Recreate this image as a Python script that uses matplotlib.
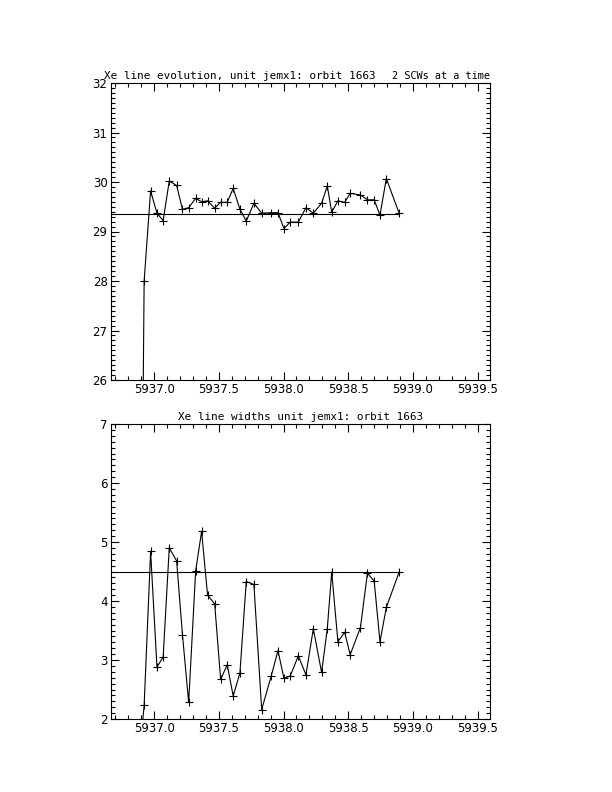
import matplotlib
matplotlib.use('Agg')
import matplotlib.pyplot as plt
from matplotlib.ticker import MultipleLocator, FormatStrFormatter

# ---- data ----
time = [5936.83, 5936.923, 5936.973, 5937.022, 5937.070, 5937.117, 5937.174, 5937.219,
        5937.267, 5937.321, 5937.367, 5937.413, 5937.468, 5937.514, 5937.565, 5937.611,
        5937.663, 5937.712, 5937.771, 5937.831, 5937.905, 5937.957, 5938.003, 5938.052,
        5938.114, 5938.173, 5938.230, 5938.294, 5938.338, 5938.372, 5938.420, 5938.472,
        5938.515, 5938.594, 5938.648, 5938.700, 5938.745, 5938.794, 5938.893]
energy = [0.0, 28.0, 29.82, 29.37, 29.22, 30.02, 29.93, 29.45, 29.48, 29.67, 29.60,
          29.62, 29.47, 29.59, 29.59, 29.87, 29.45, 29.21, 29.57, 29.37, 29.38, 29.38,
          29.06, 29.19, 29.19, 29.48, 29.37, 29.57, 29.92, 29.39, 29.62, 29.59, 29.77,
          29.74, 29.64, 29.64, 29.33, 30.07, 29.37]
width = [0.0, 2.23, 4.84, 2.88, 3.05, 4.90, 4.68, 3.43, 2.28, 4.51, 5.18, 4.10, 3.95,
         2.67, 2.92, 2.39, 2.78, 4.33, 4.28, 2.16, 2.73, 3.16, 2.69, 2.73, 3.07, 2.75,
         3.53, 2.79, 3.53, 4.49, 3.31, 3.47, 3.09, 3.55, 4.47, 4.34, 3.31, 3.89, 4.49]
energy_ref = 29.36
width_ref = 4.49

xlim = (5936.667, 5939.595)
xticks = [5937.0, 5937.5, 5938.0, 5938.5, 5939.0, 5939.5]
top_title = "Xe line evolution, unit jemx1: orbit 1663"
top_right = "2 SCWs at a time"
bot_title = "Xe line widths unit jemx1: orbit 1663"

TICKFONT = ['Liberation Sans Narrow', 'DejaVu Sans']
TITLEFONT = ['DejaVu Sans Mono', 'DejaVu Sans']

fig = plt.figure(figsize=(6.12, 7.92), dpi=100)
W, H = 612.0, 792.0


def make_axes(top_px, bottom_px):
    l, r = 111, 490
    return fig.add_axes([l / W, 1 - bottom_px / H, (r - l) / W, (bottom_px - top_px) / H])


def style(ax, ylim, ymajor, yminor):
    ax.set_xlim(*xlim)
    ax.set_ylim(*ylim)
    ax.set_xticks(xticks)
    ax.xaxis.set_minor_locator(MultipleLocator(0.1))
    ax.xaxis.set_major_formatter(FormatStrFormatter('%.1f'))
    ax.yaxis.set_major_locator(MultipleLocator(ymajor))
    ax.yaxis.set_minor_locator(MultipleLocator(yminor))
    ax.yaxis.set_major_formatter(FormatStrFormatter('%d'))
    ax.tick_params(which='both', direction='in', top=True, right=True,
                   width=0.8, color='black')
    ax.tick_params(which='major', length=6, pad=2.5, labelsize=8.5)
    ax.tick_params(which='minor', length=3)
    for lab in ax.get_xticklabels() + ax.get_yticklabels():
        lab.set_family(TICKFONT)
    for s in ax.spines.values():
        s.set_linewidth(0.8)


ax1 = make_axes(83, 380)
ax1.plot(time, energy, color='black', lw=0.8, marker='+', ms=6, mew=0.8)
ax1.hlines(energy_ref, xlim[0], time[-1], color='black', lw=0.8)
style(ax1, (26, 32), 1, 0.1)
ax1.text(-0.018, 1.006, top_title, transform=ax1.transAxes, ha='left', va='bottom',
         fontsize=7.9, family=TITLEFONT)
ax1.text(1.0, 1.006, top_right, transform=ax1.transAxes, ha='right', va='bottom',
         fontsize=7.4, family=TITLEFONT)

ax2 = make_axes(424, 719)
ax2.plot(time, width, color='black', lw=0.8, marker='+', ms=6, mew=0.8)
ax2.hlines(width_ref, xlim[0], time[-1], color='black', lw=0.8)
style(ax2, (2, 7), 1, 0.1)
ax2.text(0.5, 1.006, bot_title, transform=ax2.transAxes, ha='center', va='bottom',
         fontsize=7.9, family=TITLEFONT)

fig.savefig('out.png', dpi=100, facecolor='white')
